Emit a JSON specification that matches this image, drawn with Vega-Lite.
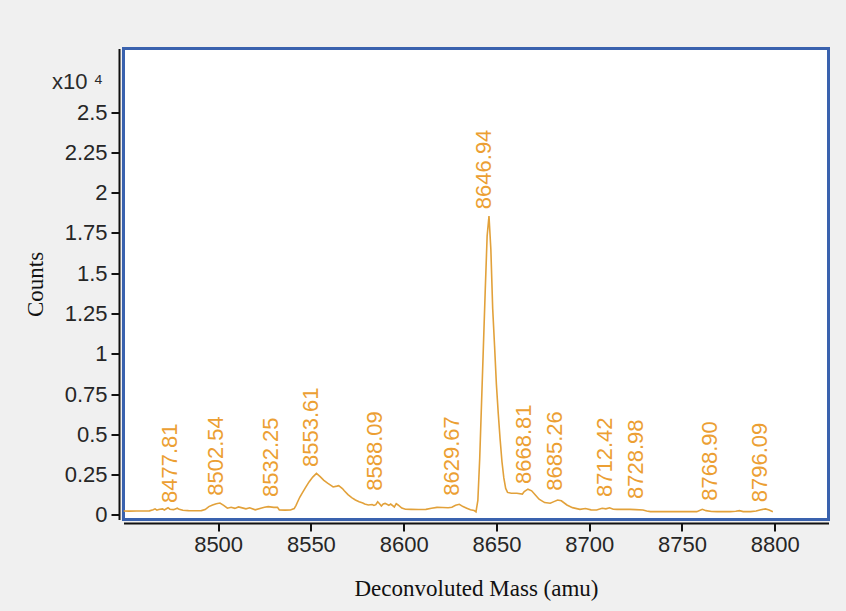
{
  "$schema": "https://vega.github.io/schema/vega-lite/v6.json",
  "width": 705,
  "height": 471,
  "autosize": {"type": "none"},
  "padding": {"left": 123.5, "top": 48.5, "right": 17.5, "bottom": 91.5},
  "background": "#F0F0F0",
  "config": {
    "view": {"fill": "white", "stroke": "#3A62AE", "strokeWidth": 3}
  },
  "title": {
    "text": "x10 ⁴",
    "anchor": "start",
    "frame": "group",
    "orient": "top",
    "offset": 0,
    "dx": -71.5,
    "dy": 62,
    "baseline": "alphabetic",
    "font": "Liberation Sans",
    "fontSize": 22,
    "fontWeight": "normal",
    "color": "#2a2a2a"
  },
  "datasets": {
    "spectrum": [
      {"mass": 8449, "counts": 250}, {"mass": 8452, "counts": 240}, {"mass": 8456, "counts": 250},
      {"mass": 8460, "counts": 245}, {"mass": 8463, "counts": 255}, {"mass": 8465, "counts": 330},
      {"mass": 8466, "counts": 380}, {"mass": 8467, "counts": 300}, {"mass": 8468, "counts": 340},
      {"mass": 8470, "counts": 380}, {"mass": 8471, "counts": 310}, {"mass": 8473, "counts": 450},
      {"mass": 8474, "counts": 360}, {"mass": 8476, "counts": 330}, {"mass": 8478, "counts": 420},
      {"mass": 8479, "counts": 350}, {"mass": 8481, "counts": 290}, {"mass": 8484, "counts": 270},
      {"mass": 8488, "counts": 260}, {"mass": 8491, "counts": 270}, {"mass": 8493, "counts": 340},
      {"mass": 8495, "counts": 520}, {"mass": 8497, "counts": 620}, {"mass": 8499, "counts": 700},
      {"mass": 8501, "counts": 740}, {"mass": 8503, "counts": 600}, {"mass": 8505, "counts": 420},
      {"mass": 8507, "counts": 480}, {"mass": 8509, "counts": 410}, {"mass": 8511, "counts": 500},
      {"mass": 8513, "counts": 440}, {"mass": 8515, "counts": 380}, {"mass": 8517, "counts": 450},
      {"mass": 8520, "counts": 320}, {"mass": 8523, "counts": 420}, {"mass": 8525, "counts": 480},
      {"mass": 8527, "counts": 520}, {"mass": 8530, "counts": 470}, {"mass": 8532, "counts": 480},
      {"mass": 8533, "counts": 310}, {"mass": 8536, "counts": 300}, {"mass": 8539, "counts": 310},
      {"mass": 8541, "counts": 400}, {"mass": 8542, "counts": 600}, {"mass": 8543, "counts": 850},
      {"mass": 8544, "counts": 1100}, {"mass": 8545, "counts": 1300}, {"mass": 8547, "counts": 1680},
      {"mass": 8549, "counts": 2050}, {"mass": 8551, "counts": 2350}, {"mass": 8553, "counts": 2580},
      {"mass": 8555, "counts": 2380}, {"mass": 8557, "counts": 2150}, {"mass": 8559, "counts": 1980},
      {"mass": 8561, "counts": 1820}, {"mass": 8562, "counts": 1740}, {"mass": 8564, "counts": 1790},
      {"mass": 8565, "counts": 1820}, {"mass": 8567, "counts": 1640}, {"mass": 8568, "counts": 1500},
      {"mass": 8570, "counts": 1260}, {"mass": 8572, "counts": 1080}, {"mass": 8574, "counts": 930},
      {"mass": 8576, "counts": 820}, {"mass": 8578, "counts": 740}, {"mass": 8579, "counts": 680},
      {"mass": 8581, "counts": 620}, {"mass": 8583, "counts": 650}, {"mass": 8584, "counts": 590},
      {"mass": 8585, "counts": 640}, {"mass": 8586, "counts": 820}, {"mass": 8587, "counts": 700},
      {"mass": 8588, "counts": 560}, {"mass": 8589, "counts": 680}, {"mass": 8590, "counts": 720},
      {"mass": 8592, "counts": 600}, {"mass": 8593, "counts": 680}, {"mass": 8595, "counts": 500},
      {"mass": 8596, "counts": 700}, {"mass": 8597, "counts": 620}, {"mass": 8599, "counts": 430},
      {"mass": 8601, "counts": 360}, {"mass": 8604, "counts": 350}, {"mass": 8608, "counts": 345},
      {"mass": 8612, "counts": 350}, {"mass": 8615, "counts": 420}, {"mass": 8618, "counts": 470},
      {"mass": 8621, "counts": 460}, {"mass": 8624, "counts": 450}, {"mass": 8626, "counts": 480},
      {"mass": 8628, "counts": 600}, {"mass": 8630, "counts": 660}, {"mass": 8632, "counts": 520},
      {"mass": 8634, "counts": 420}, {"mass": 8636, "counts": 320}, {"mass": 8638, "counts": 280},
      {"mass": 8639, "counts": 200}, {"mass": 8640, "counts": 900}, {"mass": 8641, "counts": 3500},
      {"mass": 8642, "counts": 7000}, {"mass": 8643, "counts": 10500}, {"mass": 8644, "counts": 14000},
      {"mass": 8645, "counts": 17300}, {"mass": 8646, "counts": 18550}, {"mass": 8647, "counts": 16500},
      {"mass": 8648, "counts": 12800}, {"mass": 8649, "counts": 10500}, {"mass": 8650, "counts": 8100},
      {"mass": 8651, "counts": 6300}, {"mass": 8652, "counts": 4700}, {"mass": 8653, "counts": 3300},
      {"mass": 8654, "counts": 2300}, {"mass": 8655, "counts": 1650}, {"mass": 8656, "counts": 1400},
      {"mass": 8658, "counts": 1350}, {"mass": 8661, "counts": 1350}, {"mass": 8664, "counts": 1300},
      {"mass": 8665, "counts": 1450}, {"mass": 8667, "counts": 1600}, {"mass": 8669, "counts": 1500},
      {"mass": 8671, "counts": 1240}, {"mass": 8673, "counts": 980}, {"mass": 8676, "counts": 770},
      {"mass": 8679, "counts": 727}, {"mass": 8681, "counts": 830}, {"mass": 8683, "counts": 930},
      {"mass": 8685, "counts": 880}, {"mass": 8688, "counts": 620}, {"mass": 8691, "counts": 455},
      {"mass": 8695, "counts": 350}, {"mass": 8698, "counts": 400}, {"mass": 8701, "counts": 320},
      {"mass": 8704, "counts": 311}, {"mass": 8707, "counts": 415}, {"mass": 8709, "counts": 380},
      {"mass": 8711, "counts": 450}, {"mass": 8713, "counts": 360}, {"mass": 8715, "counts": 350},
      {"mass": 8718, "counts": 360}, {"mass": 8722, "counts": 350}, {"mass": 8725, "counts": 330},
      {"mass": 8729, "counts": 311}, {"mass": 8731, "counts": 250}, {"mass": 8733, "counts": 207},
      {"mass": 8737, "counts": 207}, {"mass": 8740, "counts": 207}, {"mass": 8745, "counts": 210},
      {"mass": 8749, "counts": 207}, {"mass": 8754, "counts": 210}, {"mass": 8758, "counts": 207},
      {"mass": 8761, "counts": 350}, {"mass": 8763, "counts": 270}, {"mass": 8766, "counts": 220},
      {"mass": 8769, "counts": 207}, {"mass": 8772, "counts": 210}, {"mass": 8776, "counts": 207},
      {"mass": 8779, "counts": 230}, {"mass": 8781, "counts": 270}, {"mass": 8783, "counts": 210},
      {"mass": 8787, "counts": 207}, {"mass": 8790, "counts": 250}, {"mass": 8792, "counts": 311},
      {"mass": 8795, "counts": 380}, {"mass": 8797, "counts": 311}, {"mass": 8799, "counts": 207}
    ],
    "peaks": [
      {"mass": 8477.81, "intensity": 372, "label": "8477.81"},
      {"mass": 8502.54, "intensity": 825, "label": "8502.54"},
      {"mass": 8532.25, "intensity": 744, "label": "8532.25"},
      {"mass": 8553.61, "intensity": 2605, "label": "8553.61"},
      {"mass": 8588.09, "intensity": 1135, "label": "8588.09"},
      {"mass": 8629.67, "intensity": 825, "label": "8629.67"},
      {"mass": 8646.94, "intensity": 18600, "label": "8646.94"},
      {"mass": 8668.81, "intensity": 1550, "label": "8668.81"},
      {"mass": 8685.26, "intensity": 1135, "label": "8685.26"},
      {"mass": 8712.42, "intensity": 744, "label": "8712.42"},
      {"mass": 8728.98, "intensity": 620, "label": "8728.98"},
      {"mass": 8768.90, "intensity": 515, "label": "8768.90"},
      {"mass": 8796.09, "intensity": 415, "label": "8796.09"}
    ]
  },
  "layer": [
    {
      "data": {"name": "spectrum"},
      "mark": {"type": "line", "color": "#E2A13A", "strokeWidth": 1.6, "clip": true},
      "encoding": {
        "x": {
          "field": "mass",
          "type": "quantitative",
          "scale": {"domain": [8449, 8829], "nice": false, "zero": false},
          "axis": {
            "values": [8500, 8550, 8600, 8650, 8700, 8750, 8800],
            "format": "d",
            "offset": 3.5,
            "grid": false,
            "domainColor": "#111111",
            "domainWidth": 2,
            "tickColor": "#111111",
            "tickWidth": 2,
            "tickSize": 8,
            "labelFont": "Liberation Sans",
            "labelFontSize": 22,
            "labelColor": "#262626",
            "labelPadding": 3,
            "title": "Deconvoluted Mass (amu)",
            "titleFont": "Liberation Serif",
            "titleFontSize": 23,
            "titleFontWeight": "normal",
            "titleColor": "#111111",
            "titlePadding": 22
          }
        },
        "y": {
          "field": "counts",
          "type": "quantitative",
          "scale": {"domain": [-280, 28940], "nice": false, "zero": false},
          "axis": {
            "values": [0, 2500, 5000, 7500, 10000, 12500, 15000, 17500, 20000, 22500, 25000],
            "labelExpr": "'' + datum.value / 10000",
            "offset": 4.5,
            "grid": false,
            "domainColor": "#111111",
            "domainWidth": 2,
            "tickColor": "#111111",
            "tickWidth": 2,
            "tickSize": 8,
            "labelFont": "Liberation Sans",
            "labelFontSize": 22,
            "labelColor": "#262626",
            "labelPadding": 4,
            "title": "Counts",
            "titleFont": "Liberation Serif",
            "titleFontSize": 23,
            "titleFontWeight": "normal",
            "titleColor": "#111111",
            "titlePadding": 17
          }
        }
      }
    },
    {
      "data": {"name": "peaks"},
      "mark": {
        "type": "text",
        "angle": 270,
        "align": "left",
        "baseline": "alphabetic",
        "dx": 6,
        "font": "Liberation Sans",
        "fontSize": 22,
        "color": "#EC9F33"
      },
      "encoding": {
        "x": {"field": "mass", "type": "quantitative"},
        "y": {"field": "intensity", "type": "quantitative"},
        "text": {"field": "label"}
      }
    }
  ]
}
